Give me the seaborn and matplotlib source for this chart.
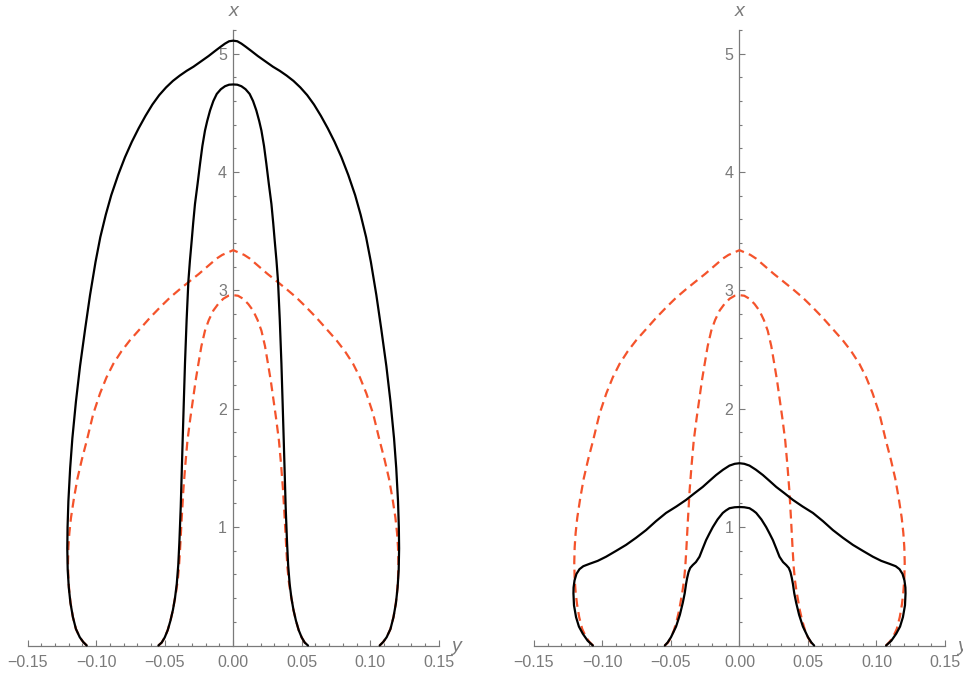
import numpy as np
import pandas as pd
import matplotlib
matplotlib.use("Agg")
import matplotlib.pyplot as plt
import seaborn as sns

# right halves of the symmetric curves, from the top (y = 0) down to the x = 0 axis,
# read off the picture as (y, x) pairs
outer_left_y = [0.0, 0.003, 0.006, 0.009, 0.013, 0.018, 0.0235, 0.029, 0.034, 0.039, 0.044, 0.049,
                0.054, 0.059, 0.064, 0.069, 0.074, 0.079, 0.084, 0.089, 0.093, 0.097, 0.1005,
                0.1045, 0.108, 0.1118, 0.1148, 0.1174, 0.1190, 0.1203, 0.1209, 0.1211, 0.1208,
                0.1200, 0.1188, 0.1170, 0.1148, 0.1120, 0.1095, 0.1069]
outer_left_x = [5.11, 5.105, 5.085, 5.06, 5.025, 4.98, 4.935, 4.89, 4.855, 4.815, 4.77, 4.715,
                4.65, 4.57, 4.475, 4.37, 4.255, 4.125, 3.975, 3.805, 3.64, 3.45, 3.24,
                2.96, 2.68, 2.36, 2.06, 1.75, 1.50, 1.22, 1.00, 0.82, 0.64,
                0.49, 0.36, 0.24, 0.14, 0.07, 0.03, 0.0]

inner_left_y = [0.0, 0.003, 0.006, 0.009, 0.012, 0.0145, 0.0169, 0.019, 0.0206, 0.0225, 0.0242,
                0.026, 0.0279, 0.0292, 0.0303, 0.0316, 0.0327, 0.034, 0.0352, 0.0361, 0.0369,
                0.0377, 0.0383, 0.0393, 0.0401, 0.0412, 0.0425, 0.0440, 0.0458, 0.0478, 0.0500,
                0.0522, 0.0546]
inner_left_x = [4.74, 4.738, 4.725, 4.70, 4.66, 4.60, 4.52, 4.43, 4.35, 4.22, 4.07,
                3.90, 3.73, 3.57, 3.42, 3.25, 3.08, 2.75, 2.38, 2.04, 1.73,
                1.41, 1.17, 0.87, 0.68, 0.52, 0.40, 0.30, 0.21, 0.13, 0.068,
                0.025, 0.0]

red_outer_y = [0.0, 0.004, 0.008, 0.012, 0.018, 0.025, 0.0315, 0.039, 0.0461, 0.053, 0.0607, 0.068,
               0.0753, 0.0815, 0.0875, 0.0925, 0.0972, 0.1022, 0.1069, 0.1105, 0.1137, 0.1163,
               0.1184, 0.1196, 0.1203, 0.1206, 0.1203, 0.1196, 0.1186, 0.1170, 0.1148, 0.1120,
               0.1095, 0.1069]
red_outer_x = [3.34, 3.32, 3.30, 3.27, 3.21, 3.14, 3.08, 3.01, 2.94, 2.862, 2.77, 2.675,
               2.58, 2.487, 2.38, 2.265, 2.13, 1.955, 1.73, 1.57, 1.41, 1.24,
               1.08, 0.95, 0.83, 0.70, 0.56, 0.45, 0.35, 0.24, 0.14, 0.07,
               0.03, 0.0]

red_inner_y = [0.0, 0.0035, 0.0072, 0.011, 0.0145, 0.0178, 0.0206, 0.0232, 0.0254, 0.0274, 0.0291,
               0.0313, 0.0334, 0.035, 0.0364, 0.0377, 0.0388, 0.0396, 0.0405, 0.0416, 0.0428,
               0.0440, 0.0458, 0.0478, 0.0500, 0.0522, 0.0546]
red_inner_x = [2.96, 2.955, 2.93, 2.885, 2.83, 2.75, 2.66, 2.53, 2.38, 2.24, 2.10,
               1.92, 1.73, 1.52, 1.31, 1.05, 0.81, 0.66, 0.55, 0.46, 0.38,
               0.30, 0.21, 0.13, 0.068, 0.025, 0.0]

outer_right_y = [0.0, 0.0035, 0.0073, 0.012, 0.0171, 0.022, 0.0268, 0.033, 0.039, 0.046, 0.0536,
                 0.061, 0.0682, 0.0755, 0.0828, 0.090, 0.0974, 0.1035, 0.1095, 0.1140, 0.1168,
                 0.1190, 0.1204, 0.1211, 0.1212, 0.1208, 0.1193, 0.1172, 0.1144, 0.1108, 0.1070]
outer_right_x = [1.54, 1.535, 1.52, 1.485, 1.44, 1.39, 1.34, 1.285, 1.23, 1.175, 1.12,
                 1.05, 0.975, 0.91, 0.85, 0.80, 0.75, 0.715, 0.69, 0.67, 0.645,
                 0.605, 0.55, 0.49, 0.44, 0.34, 0.24, 0.16, 0.10, 0.04, 0.0]

inner_right_y = [0.0, 0.0035, 0.0073, 0.0100, 0.0122, 0.016, 0.0195, 0.022, 0.0244, 0.027, 0.0292,
                 0.0318, 0.0341, 0.0360, 0.0372, 0.0382, 0.0390, 0.0400, 0.0414, 0.0435, 0.0463,
                 0.0500, 0.0525, 0.0545]
inner_right_x = [1.17, 1.168, 1.16, 1.14, 1.12, 1.065, 1.00, 0.945, 0.89, 0.815, 0.75,
                 0.705, 0.68, 0.655, 0.62, 0.57, 0.52, 0.44, 0.36, 0.26, 0.16,
                 0.07, 0.025, 0.0]

xticks = [-0.15, -0.10, -0.05, 0.00, 0.05, 0.10, 0.15]
yticks = [1, 2, 3, 4, 5]

RED = "#f4532b"
GRAY = "#7a7a7a"


def mirror(ys, xs):
    ys = np.asarray(ys)
    xs = np.asarray(xs)
    return pd.DataFrame({"y": np.concatenate([-ys[::-1], ys[1:]]),
                         "x": np.concatenate([xs[::-1], xs[1:]])})


sns.set_style("white")
plt.rcParams['font.family'] = ['Liberation Sans', 'DejaVu Sans']

fig = plt.figure(figsize=(9.63, 6.76), dpi=100)
ax1 = fig.add_axes([0.02876, 0.0451, 0.4268, 0.9105])
ax2 = fig.add_axes([0.5545, 0.0451, 0.4268, 0.9105])

panels = [
    (ax1, [(outer_left_y, outer_left_x), (inner_left_y, inner_left_x)]),
    (ax2, [(outer_right_y, outer_right_x), (inner_right_y, inner_right_x)]),
]

for ax, black_curves in panels:
    for ys, xs in [(red_outer_y, red_outer_x), (red_inner_y, red_inner_x)]:
        sns.lineplot(data=mirror(ys, xs), x="y", y="x", sort=False, estimator=None, ax=ax,
                     color=RED, linewidth=1.6, linestyle=(0, (4, 2.4)), clip_on=False)
    for ys, xs in black_curves:
        sns.lineplot(data=mirror(ys, xs), x="y", y="x", sort=False, estimator=None, ax=ax,
                     color="black", linewidth=1.6, clip_on=False, solid_joinstyle="round")

    ax.set_xlim(-0.15, 0.15)
    ax.set_ylim(0, 5.2)
    ax.set_facecolor("none")
    for side in ["top", "right"]:
        ax.spines[side].set_visible(False)
    ax.spines["left"].set_position(("data", 0))
    ax.spines["bottom"].set_position(("data", 0))
    for side in ["left", "bottom"]:
        ax.spines[side].set_color(GRAY)
        ax.spines[side].set_linewidth(0.9)
        ax.spines[side].set_zorder(0)

    ax.set_xticks(xticks)
    ax.set_xticklabels([f"{t:.2f}".replace("-", "\u2212") for t in xticks])
    ax.set_xticks(np.round(np.arange(-0.15, 0.151, 0.01), 2), minor=True)
    ax.set_yticks(yticks)
    ax.set_yticklabels([str(t) for t in yticks])
    ax.set_yticks(np.round(np.arange(0.2, 5.21, 0.2), 1), minor=True)
    ax.tick_params(which="both", direction="in", color=GRAY, width=0.8,
                   labelcolor=GRAY, labelsize=11.5, bottom=True, left=True)
    ax.tick_params(which="major", length=4)
    ax.tick_params(which="minor", length=2.2)
    ax.tick_params(axis="x", pad=6.5)
    ax.tick_params(axis="y", pad=4.5)
    ax.set_xlabel("")
    ax.set_ylabel("")
    ax.grid(False)

    ax.annotate("x", xy=(0, 5.2), xytext=(0, 13.5), textcoords="offset points",
                ha="center", va="center", fontsize=14, style="italic", color=GRAY,
                annotation_clip=False)
    ax.annotate("y", xy=(0.15, 0), xytext=(12.5, -1), textcoords="offset points",
                ha="center", va="center", fontsize=14, style="italic", color=GRAY,
                annotation_clip=False)

fig.savefig("out.png", dpi=100)
